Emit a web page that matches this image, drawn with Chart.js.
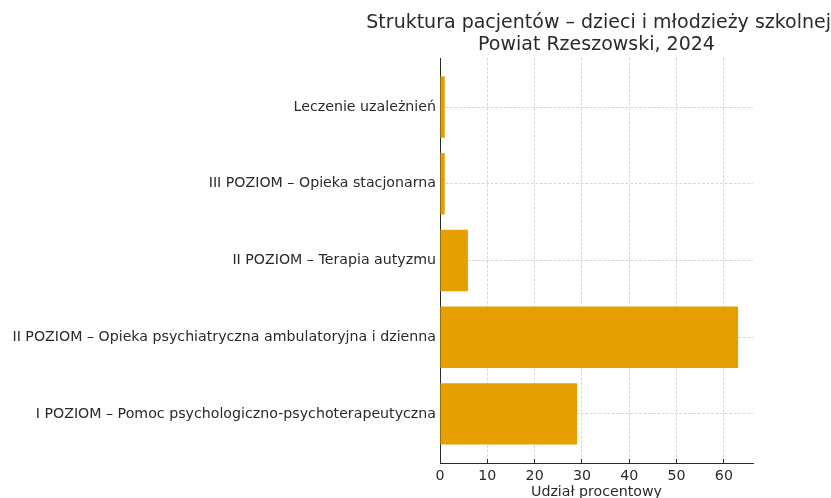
<!DOCTYPE html>
<html>
<head>
<meta charset="utf-8">
<script src="https://cdn.jsdelivr.net/npm/chart.js@4"></script>
<style>html,body{margin:0;padding:0;background:#fff;overflow:hidden}</style>
</head>
<body>
<canvas id="c" width="831" height="498"></canvas>
<script>
// Categories listed bottom to top (as drawn)
const categories = [
  'I POZIOM – Pomoc psychologiczno-psychoterapeutyczna',
  'II POZIOM – Opieka psychiatryczna ambulatoryjna i dzienna',
  'II POZIOM – Terapia autyzmu',
  'III POZIOM – Opieka stacjonarna',
  'Leczenie uzależnień'
];
const shares = [29.0, 63.0, 5.9, 1.0, 1.0];
const xTickValues = [0, 10, 20, 30, 40, 50, 60];
const titleLine1 = 'Struktura pacjentów – dzieci i młodzieży szkolnej';
const titleLine2 = 'Powiat Rzeszowski, 2024';
const xAxisTitle = 'Udział procentowy';

const FONT = 'DejaVu Sans';
const TXT = '#2a2a2a';
const GRID = '#cfcfcf';
const TICK_SIZE = 14.2;

new Chart(document.getElementById('c'), {
  type: 'bar',
  data: {
    datasets: [{
      data: shares.map((v, i) => ({ x: v, y: i })),
      backgroundColor: '#E69F00',
      borderWidth: 0,
      categoryPercentage: 1,
      barPercentage: 0.8
    }]
  },
  options: {
    indexAxis: 'y',
    responsive: false,
    animation: false,
    devicePixelRatio: 1,
    layout: { padding: 0 },
    plugins: {
      legend: { display: false },
      tooltip: { enabled: false },
      title: {
        display: true, text: titleLine1, align: 'end', fullSize: true, color: TXT,
        font: { family: FONT, size: 19, weight: 'normal', lineHeight: 1.2 },
        padding: { top: 12, bottom: 0 }
      },
      subtitle: {
        display: true, text: titleLine2, align: 'center', fullSize: false, color: TXT,
        font: { family: FONT, size: 19, weight: 'normal', lineHeight: 1.2 },
        padding: { top: -1.6, bottom: 2 }
      }
    },
    scales: {
      x: {
        type: 'linear', position: 'bottom', min: 0, max: 66.15,
        afterBuildTicks: s => { s.ticks = xTickValues.map(v => ({ value: v })); },
        afterFit: s => { s.height = 35; },
        ticks: { color: TXT, font: { family: FONT, size: TICK_SIZE }, padding: 9, maxRotation: 0, autoSkip: false },
        grid: { color: GRID, lineWidth: 0.8, tickLength: -4, tickColor: TXT, tickWidth: 1, tickBorderDash: [] },
        border: { display: true, color: TXT, width: 1, dash: [3, 1.5] },
        title: { display: true, text: xAxisTitle, color: TXT, font: { family: FONT, size: TICK_SIZE }, padding: { top: 0, bottom: -3 } }
      },
      y: {
        type: 'linear', position: 'left', min: -0.64, max: 4.64, offset: false,
        afterBuildTicks: s => { s.ticks = categories.map((c, i) => ({ value: i })); },
        afterFit: s => { s.width = 440; },
        ticks: { color: TXT, font: { family: FONT, size: TICK_SIZE }, padding: 8, autoSkip: false,
                 callback: v => (categories[v] !== undefined ? categories[v] : '') },
        grid: { offset: false, color: GRID, lineWidth: 0.8, tickLength: -4, tickColor: TXT, tickWidth: 1, tickBorderDash: [] },
        border: { display: true, color: TXT, width: 1, dash: [3, 1.5] }
      },
      yR: {
        type: 'linear', position: 'right', display: true,
        grid: { display: false }, ticks: { display: false }, border: { display: false },
        afterFit: s => { s.width = 78; }
      }
    }
  }
});
</script>
</body>
</html>
